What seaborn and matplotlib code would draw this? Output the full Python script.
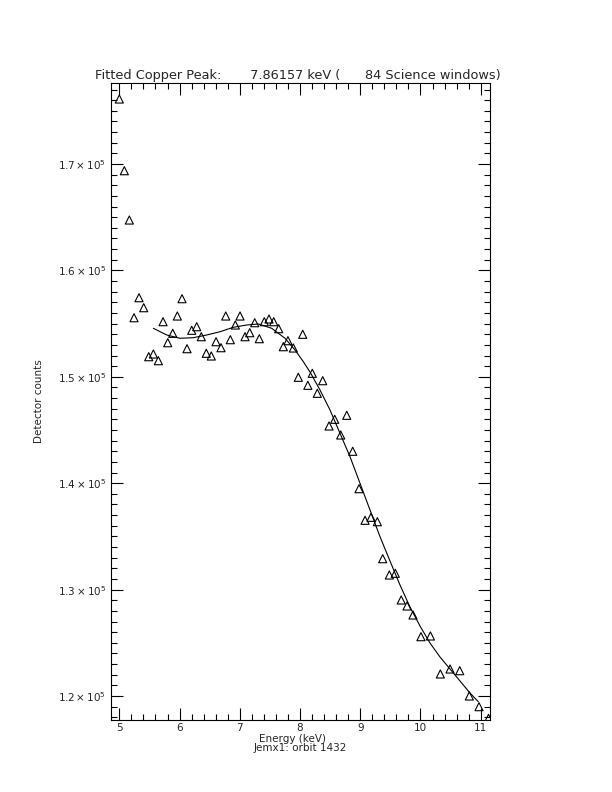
import numpy as np
import pandas as pd
import seaborn as sns
import matplotlib
matplotlib.use("Agg")
import matplotlib.pyplot as plt
import matplotlib.ticker as ticker

# measured points (energy keV, detector counts)
energy = [5.000, 5.083, 5.166, 5.244, 5.327, 5.405, 5.488, 5.565, 5.648, 5.726,
          5.804, 5.887, 5.963, 6.041, 6.124, 6.202, 6.285, 6.361, 6.444, 6.527,
          6.606, 6.688, 6.767, 6.843, 6.926, 7.004, 7.087, 7.165, 7.248, 7.324,
          7.407, 7.485, 7.563, 7.646, 7.723, 7.800, 7.889, 7.972, 8.045, 8.130,
          8.204, 8.287, 8.377, 8.482, 8.576, 8.676, 8.776, 8.875, 8.980, 9.080,
          9.179, 9.284, 9.373, 9.483, 9.582, 9.680, 9.777, 9.876, 10.008, 10.165,
          10.330, 10.491, 10.652, 10.811, 10.972, 11.130]
counts = [176109, 169370, 164737, 155553, 157435, 156495, 151890, 152144, 151514, 155179,
          153206, 154089, 155715, 157341, 152642, 154371, 154709, 153770, 152210, 151956,
          153300, 152736, 155715, 153488, 154869, 155715, 153770, 154146, 155086, 153582,
          155179, 155433, 155179, 154521, 152830, 153394, 152707, 149954, 153995, 149202,
          150330, 148450, 149635, 145378, 146007, 144531, 146382, 143000, 139485, 136515,
          136797, 136383, 132906, 131374, 131534, 129025, 128461, 127615, 125576, 125642,
          122070, 122540, 122380, 120003, 118997, 117900]

# fitted curve
fit_energy = [5.565, 5.787, 6.006, 6.229, 6.451, 6.674, 6.893, 7.115, 7.308, 7.530,
              7.751, 7.917, 8.055, 8.166, 8.332, 8.498, 8.664, 8.830, 8.996, 9.162,
              9.328, 9.494, 9.660, 9.826, 9.992, 10.158, 10.324, 10.490, 10.656, 10.822,
              10.960]
fit_counts = [154559, 153930, 153620, 153676, 153930, 154240, 154653, 154869, 154963, 154559,
              153620, 152520, 151420, 150452, 148760, 146880, 144690, 142493, 139992, 137483,
              134974, 132690, 130434, 128367, 126581, 124984, 123668, 122540, 121412, 120284,
              119467]

pts = pd.DataFrame({"energy": energy, "counts": counts})
fit = pd.DataFrame({"energy": fit_energy, "counts": fit_counts})

sns.set_style("ticks")
plt.rcParams["font.family"] = ["DejaVu Sans"]

fig = plt.figure(figsize=(6.12, 7.92), dpi=100)
ax = fig.add_axes([0.1814, 0.0909, 0.6193, 0.8043])

sns.scatterplot(data=pts, x="energy", y="counts", marker="^", s=34,
                facecolors="none", edgecolor="black", linewidth=0.8, ax=ax)
sns.lineplot(data=fit, x="energy", y="counts", color="black", linewidth=0.8,
             sort=False, ax=ax)

ax.set_xlim(4.862, 11.155)
ax.set_ylim(117744, 177613)

ax.xaxis.set_major_locator(ticker.MultipleLocator(1))
ax.xaxis.set_minor_locator(ticker.MultipleLocator(0.2))
ax.xaxis.set_major_formatter(ticker.FormatStrFormatter('%d'))
ax.yaxis.set_major_locator(ticker.MultipleLocator(10000))
ax.yaxis.set_minor_locator(ticker.MultipleLocator(1000))
ax.yaxis.set_major_formatter(ticker.FuncFormatter(
    lambda v, p: r'$%.1f\times10^{5}$' % (v / 1e5)))

ax.tick_params(which="both", direction="in", top=True, right=True,
               width=0.8, color="black", labelsize=7.5)
ax.tick_params(axis="x", pad=2.5)
ax.tick_params(which="major", length=8.5)
ax.tick_params(which="minor", length=4.3)
for s in ax.spines.values():
    s.set_linewidth(0.8)
    s.set_color("black")

ax.set_xlabel("")
ax.set_ylabel("Detector counts", fontsize=7.5, labelpad=10)

fig.text(0.487, 0.905, "Fitted Copper Peak:       7.86157 keV (      84 Science windows)",
         ha="center", va="center", fontsize=9.3)
fig.text(0.478, 0.0665, "Energy (keV)", ha="center", va="center", fontsize=7.5)
fig.text(0.491, 0.0555, "Jemx1: orbit 1432", ha="center", va="center", fontsize=7.5)

fig.savefig("out.png", dpi=100, facecolor="white")
